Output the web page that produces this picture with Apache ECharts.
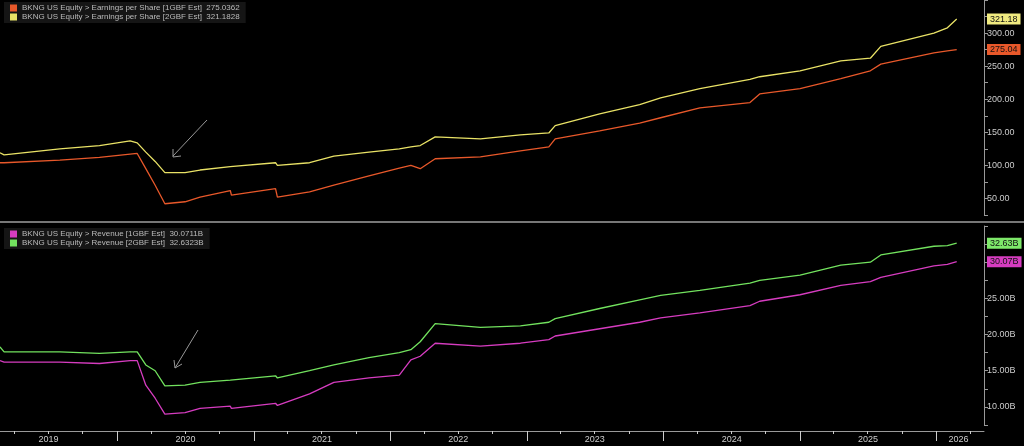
<!DOCTYPE html>
<html>
<head>
<meta charset="utf-8">
<script src="https://cdn.jsdelivr.net/npm/echarts@6/dist/echarts.min.js"></script>
<style>html,body{margin:0;background:#000;}#chart{width:1024px;height:446px;}</style>
</head>
<body>
<div id="chart"></div>
<script>
// dates of the readings
var dates = ['2019-02-22','2019-03-05','2019-08-01','2019-11-15','2020-02-05','2020-02-24','2020-03-18','2020-04-12','2020-05-08','2020-07-01','2020-08-10','2020-10-30','2020-11-02','2021-02-28','2021-03-05','2021-05-30','2021-08-03','2021-11-05','2022-01-25','2022-02-25','2022-03-22','2022-05-01','2022-08-30','2022-12-15','2023-03-01','2023-03-18','2023-07-15','2023-10-30','2023-12-25','2024-04-08','2024-08-20','2024-09-15','2025-01-01','2025-04-20','2025-07-08','2025-08-05','2025-12-25','2026-01-30','2026-02-24'];
var eps1 = [104,104,108,112,117,118,95,70,42,45,52,62,55,65,52,60,70,84,96,100,95,110,113,122,128,140,152,164,172,187,195,208,216,231,243,253,270,273,275.04];
var eps2 = [119,116,125,130,137,134,120,106,89,89,93,98,100,104,100,104,114,120,125,128,130,143,140,146,149,160,178,192,202,216,230,234,243,258,262,280,300,308,321.18];
var rev1 = [16.4,16.2,16.2,16.0,16.4,16.4,13.0,11.2,9.0,9.2,9.8,10.1,9.8,10.5,10.2,11.8,13.4,14.0,14.4,16.5,17.0,18.8,18.4,18.8,19.3,19.8,20.8,21.7,22.3,23.0,24.0,24.6,25.5,26.8,27.3,27.9,29.5,29.7,30.07];
var rev2 = [18.3,17.6,17.6,17.4,17.6,17.6,15.8,15.0,12.9,13.0,13.4,13.7,13.5,14.3,14.0,15.0,15.8,16.8,17.5,17.9,19.0,21.5,21.0,21.2,21.7,22.2,23.6,24.8,25.4,26.1,27.1,27.5,28.2,29.6,30.0,31.0,32.2,32.3,32.63];
var yearLabels = ['2019','2020','2021','2022','2023','2024','2025','2026'];

var FONT = 'Liberation Sans';
function pairs(v) { return dates.map(function (d, i) { return [+new Date(d), v[i]]; }); }
var yearStarts = [], yearMids = [], quarters = [];
yearLabels.forEach(function (y) {
    yearStarts.push(+new Date(y + '-01-01'));
    yearMids.push(+new Date(y + (y === '2026' ? '-03-01' : '-07-02')));
    ['-04-01','-07-01','-10-01'].forEach(function (q) { quarters.push(+new Date(y + q)); });
});
yearStarts.shift();
quarters.pop(); quarters.pop();
var xMin = +new Date('2019-02-22'), xMax = +new Date('2026-05-08');

function tag(v, bg, txt, digits) {
    return {
        silent: true, symbol: 'none', lineStyle: {width: 0, color: 'rgba(0,0,0,0)'},
        data: [{yAxis: v}],
        label: {show: true, position: 'end', formatter: v.toFixed(2) + (digits || ''), backgroundColor: bg, color: txt,
            fontFamily: FONT, fontSize: 9, padding: [1, 3], distance: 3}
    };
}
var last = eps1.length - 1;
var myChart = echarts.init(document.getElementById('chart'));
var axisCommon = function (gi, show) {
    return {type: 'value', gridIndex: gi, min: xMin, max: xMax, position: 'bottom',
        axisLine: {show: show, lineStyle: {color: '#999'}},
        splitLine: {show: false}};
};
var option = {
    backgroundColor: '#000',
    animation: false,
    textStyle: {fontFamily: FONT},
    legend: [
        {data: ['eps1', 'eps2'], left: 4, top: 2, orient: 'vertical', itemGap: 1, itemWidth: 7, itemHeight: 7,
            icon: 'rect', backgroundColor: '#151515', padding: [2, 6],
            textStyle: {color: '#bbb', fontSize: 8, fontFamily: FONT},
            formatter: function (n) { return n === 'eps1' ? 'BKNG US Equity > Earnings per Share [1GBF Est]  275.0362' : 'BKNG US Equity > Earnings per Share [2GBF Est]  321.1828'; }},
        {data: ['rev1', 'rev2'], left: 4, top: 228, orient: 'vertical', itemGap: 1, itemWidth: 7, itemHeight: 7,
            icon: 'rect', backgroundColor: '#151515', padding: [2, 6],
            textStyle: {color: '#bbb', fontSize: 8, fontFamily: FONT},
            formatter: function (n) { return n === 'rev1' ? 'BKNG US Equity > Revenue [1GBF Est]  30.0711B' : 'BKNG US Equity > Revenue [2GBF Est]  32.6323B'; }}
    ],
    grid: [
        {left: 0, right: 40, top: -1, height: 216},
        {left: 0, right: 40, top: 226, height: 199}
    ],
    xAxis: [
        Object.assign(axisCommon(0, false), {axisTick: {show: false}, axisLabel: {show: false}}),
        Object.assign(axisCommon(1, true), {offset: 6,
            axisTick: {show: true, customValues: yearStarts, length: 10, lineStyle: {color: '#ccc'}},
            axisLabel: {customValues: yearMids, formatter: function (v) { return new Date(v).getFullYear(); },
                color: '#ccc', fontSize: 9, margin: 4}}),
        Object.assign(axisCommon(1, false), {offset: 6,
            axisTick: {show: true, customValues: quarters, length: 3, lineStyle: {color: '#ccc'}},
            axisLabel: {show: false}})
    ],
    yAxis: [
        {type: 'value', gridIndex: 0, position: 'right', min: 25, max: 350, interval: 25,
            axisLine: {show: true, lineStyle: {color: '#999'}}, axisTick: {show: true, length: 4, lineStyle: {color: '#999'}},
            splitLine: {show: false},
            axisLabel: {color: '#ccc', fontSize: 9, margin: 3,
                formatter: function (v) { return v % 50 === 0 && v < 350 ? v.toFixed(2) : ''; }}},
        {type: 'value', gridIndex: 1, position: 'right', min: 7.5, max: 35, interval: 2.5,
            axisLine: {show: true, lineStyle: {color: '#999'}}, axisTick: {show: true, length: 4, lineStyle: {color: '#999'}},
            splitLine: {show: false},
            axisLabel: {color: '#ccc', fontSize: 9, margin: 3,
                formatter: function (v) { return v % 5 === 0 && v < 35 ? v.toFixed(2) + 'B' : ''; }}}
    ],
    graphic: [
        {type: 'line', shape: {x1: 0, y1: 222, x2: 1024, y2: 222}, style: {stroke: '#777', lineWidth: 2}},
        {type: 'line', shape: {x1: 207, y1: 120, x2: 173, y2: 156}, style: {stroke: '#999', lineWidth: 1}},
        {type: 'polyline', shape: {points: [[173, 149], [173, 157], [181, 156]]}, style: {stroke: '#999', fill: null, lineWidth: 1}},
        {type: 'line', shape: {x1: 198, y1: 330, x2: 175, y2: 368}, style: {stroke: '#999', lineWidth: 1}},
        {type: 'polyline', shape: {points: [[174, 360], [175, 368], [182, 364]]}, style: {stroke: '#999', fill: null, lineWidth: 1}}
    ],
    series: [
        {name: 'eps1', type: 'line', xAxisIndex: 0, yAxisIndex: 0, data: pairs(eps1), showSymbol: false,
            lineStyle: {width: 1.3}, color: '#e8582a', markLine: tag(eps1[last], '#e8582a', '#111')},
        {name: 'eps2', type: 'line', xAxisIndex: 0, yAxisIndex: 0, data: pairs(eps2), showSymbol: false,
            lineStyle: {width: 1.3}, color: '#e9e266', markLine: tag(eps2[last], '#f0ea80', '#111')},
        {name: 'rev1', type: 'line', xAxisIndex: 1, yAxisIndex: 1, data: pairs(rev1), showSymbol: false,
            lineStyle: {width: 1.3}, color: '#d63cc0', markLine: tag(rev1[last], '#d63cc0', '#111', 'B')},
        {name: 'rev2', type: 'line', xAxisIndex: 1, yAxisIndex: 1, data: pairs(rev2), showSymbol: false,
            lineStyle: {width: 1.3}, color: '#72e25e', markLine: tag(rev2[last], '#7ee86a', '#111', 'B')}
    ]
};
myChart.setOption(option);
</script>
</body>
</html>
